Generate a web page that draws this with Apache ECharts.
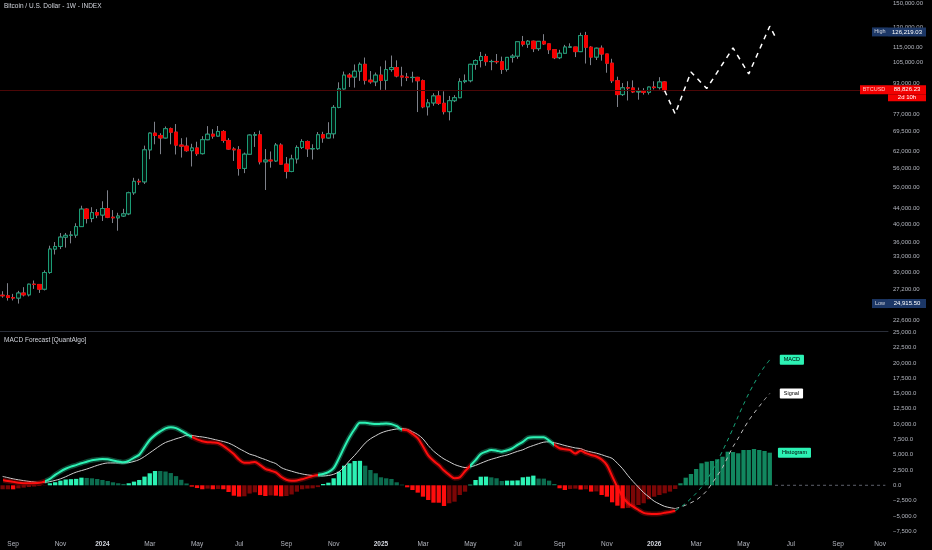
<!DOCTYPE html>
<html><head><meta charset="utf-8">
<script src="https://cdn.jsdelivr.net/npm/echarts@6/dist/echarts.min.js"></script>
<style>html,body{margin:0;padding:0;background:#000;}#c{width:932px;height:550px;}</style>
</head><body><div id="c"></div>
<script>
// ---------- data ----------
const startDate = '2023-08-21';
const weekCount = 169;
const opens = [26190,26100,25830,25750,26530,26250,27970,27930,27150,29990,34500,35040,37050,37450,37500,39460,43800,41400,42900,42280,43950,41730,41580,42030,42580,48300,51700,51550,62400,68950,68000,67000,70800,69350,64200,63800,62100,63100,61000,66300,68500,67750,69650,66000,62700,62400,55850,60800,68150,68250,58100,58700,58400,64200,57300,54850,59100,63300,65600,62800,62850,68300,67000,68700,80400,89800,97500,96400,99800,104000,94600,93700,97500,94500,100800,102000,97000,96400,96100,96200,94300,80700,82600,86100,82400,78400,83700,85200,93800,94300,104000,106400,109000,105700,105800,105600,100900,108400,109200,119000,117300,119400,114200,119300,117500,113500,108200,111100,115300,115300,112200,123500,115200,108600,114500,110600,104700,94300,86800,90400,90300,88200,88500,88000,90800,90500,93600];
const highs = [26820,28140,26400,26880,27480,28050,28600,28000,30380,35200,35980,37970,37980,38400,40250,44700,44000,44300,43800,45900,49000,43550,42850,43880,48600,52800,52500,64000,69200,73800,68900,71750,71300,72800,66900,67200,64700,65500,67700,71900,70600,71950,70200,66900,63400,63800,61400,68400,69400,70000,62700,61800,65000,64900,59800,60600,64100,66500,66000,64500,69400,69500,73600,81500,93400,99600,98700,103900,105200,108300,99900,99000,102700,106400,109600,106500,102500,98800,99500,96500,95000,84500,87500,88800,88500,86100,86500,95700,97900,104300,107100,112000,110700,106900,110600,108900,108500,110500,119000,123200,120200,119800,119300,124500,117600,113600,113400,116800,117900,115400,125600,126219.03,115900,114900,116400,110600,107500,96600,93000,94000,94500,90500,90200,91000,94000,96300,94000];
const lows = [25800,25360,25380,24915.5,26000,26000,27200,26550,26950,29780,33400,34500,34800,35700,36900,39400,40200,40500,41500,40800,41500,40300,38500,41800,42250,47700,50600,50900,59000,64500,60800,66800,64500,60700,59600,61700,56500,60200,60700,66100,66700,67600,65100,62500,58400,53500,54300,60600,63500,57200,49100,56100,58100,57200,52600,54600,57500,62700,59800,58900,62400,65100,66800,66800,80000,89400,90800,90500,94200,92200,92600,91300,89300,89300,99500,96200,91200,94100,93300,78200,80000,76600,81200,81600,77100,74400,83000,85100,92900,93400,100700,102100,103100,100400,104300,98200,99600,105100,107500,115700,114700,111900,112700,116800,110600,107300,107300,110600,114700,108600,111900,104500,103500,106700,106300,98900,93000,80600,86100,83800,87600,84200,86800,86800,89500,89500,88600];
const closes = [26100,25830,25750,26530,26250,27970,27930,27150,29990,34500,35040,37050,37450,37500,39460,43800,41400,42900,42280,43950,41730,41580,42030,42580,48300,51700,51550,62400,68950,68000,67000,70800,69350,64200,63800,62100,63100,61000,66300,68500,67750,69650,66000,62700,62400,55850,60800,68150,68250,58100,58700,58400,64200,57300,54850,59100,63300,65600,62800,62850,68300,67000,68700,80400,89800,97500,96400,99800,104000,94600,93700,97500,94500,100800,102000,97000,96400,96100,96200,94300,80700,82600,86100,82400,78400,83700,85200,93800,94300,104000,106400,109000,105700,105800,105600,100900,108400,109200,119000,117300,119400,114200,119300,117500,113500,108200,111100,115300,115300,112200,123500,115200,108600,114500,110600,104700,94300,86800,90400,90300,88200,88500,88000,90800,90500,93600,88826.23];

const priceTicks = [150000,130000,115000,105000,93000,77000,69500,62000,56000,50000,44000,40000,36000,33000,30000,27200,22600];
const macdTicks = [25000,22500,20000,17500,15000,12500,10000,7500,5000,2500,0,-2500,-5000,-7500];

const lastPrice = 88826.23;
const highPrice = 126219.03;
const lowPrice = 24915.50;
const timeLeft = '2d 10h';

// forecast price path (category index, price)
const pathIdx = [126,128,131,134,139,142,146,147];
const pathVal = [88826.23,77300,99400,90000,114700,98200,130600,122900];

const macdLine = [870,700,560,430,350,320,330,400,650,1050,
1700,2250,2700,3050,3300,3600,3850,4100,4200,4300,
4250,4050,3900,3750,4000,4500,5000,6200,7400,8200,
8800,9300,9500,9350,8900,8400,7900,7500,7200,7050,
7000,6900,6450,5800,5100,4200,3700,3700,3800,3300,
2700,2400,2100,1400,900,750,800,1000,1250,1500,
1700,1850,2150,2800,4400,6200,7850,9200,10200,10200,
10100,10000,10050,10100,10000,9650,9100,9000,8400,7700,
6350,4900,4000,3300,2400,1700,1150,1300,2300,3200,
4100,5100,5500,5750,5650,5500,5700,6050,6600,7100,
7750,7850,7850,7850,7300,6600,6050,5900,5750,5200,
5650,5250,4950,4700,4200,3300,1500,-300,-1900,-2900,
-3500,-4000,-4500,-4650,-4700,-4650,-4500,-4350,-4150];
const signalLine = [1450,1250,1050,900,760,640,540,460,480,600,
800,1050,1400,1800,2150,2400,2650,2950,3250,3500,
3650,3650,3650,3650,3700,3900,4200,4700,5300,5900,
6500,7000,7300,7600,7850,8150,8150,8000,7900,7750,
7550,7350,7150,6900,6500,6000,5550,5100,4850,4500,
4200,3850,3550,2900,2550,2300,2050,1850,1700,1600,
1550,1520,1600,1800,2200,3000,4000,4900,5900,6900,
7600,8100,8550,8850,9050,9200,9250,9150,8750,8300,
7600,6500,5600,4900,4300,3850,3400,3100,2900,3000,
3250,3600,3950,4250,4500,4750,4950,5250,5550,5800,
6200,6500,6800,7050,7100,6950,6750,6500,6300,6100,
6000,5650,5450,5250,5000,4700,4400,3600,2700,1600,
600,-300,-1200,-1900,-2600,-3050,-3450,-3650,-3800];
const histogram = [-650,-650,-660,-500,-380,-280,-200,-120,-40,330,
500,760,950,1000,1050,1250,1200,1140,1030,870,
700,490,330,220,330,600,870,1420,1960,2340,
2330,2250,2000,1500,900,300,-220,-450,-650,-550,
-650,-600,-650,-1100,-1700,-1850,-1800,-1350,-1150,-1600,
-1750,-1650,-1700,-1800,-1750,-1500,-1045,-654,-545,-500,
-300,212,425,1144,2222,3203,3595,3970,4000,3203,
2500,1960,1307,1144,1035,490,100,-330,-770,-1200,
-1860,-2400,-2840,-2850,-3380,-2940,-2680,-1590,-1045,100,
866,1405,1420,1300,1150,708,763,770,800,1307,
1400,1580,1100,1090,760,212,-490,-770,-600,-550,
-700,-650,-1035,-1000,-1590,-1860,-2780,-3330,-3760,-3700,
-3500,-3220,-2940,-2290,-1860,-1590,-1310,-1035,-600];

const fcStart = 128;
const fcMacd = [-4150,-3600,-2950,-2150,-1300,-300,850,2300,3900,5600,7400,9300,11300,13200,15000,16600,18100,19400,20500];
const fcSignal = [-3800,-3550,-3250,-2850,-2400,-1750,-900,300,1550,2900,4600,6300,7700,9200,10600,11800,12900,14000,15000];
const fcHistStart = 129;
const fcHist = [327,1242,1846,2663,3595,3856,3970,4248,4673,5490,5435,5229,5768,5768,5931,5768,5604,5327];
const zeroLineIdx = [147,168];

// ---------- helpers ----------
const FONT = 'Liberation Sans, Arial, sans-serif';
const AXIS_TXT = '#b2b5be';
const TEAL = '#2cf2b4', DKGREEN = '#0c6c4f', RED = '#ff0d0d', DKRED = '#7c0606';
const MONTHS = ['Jan','Feb','Mar','Apr','May','Jun','Jul','Aug','Sep','Oct','Nov','Dec'];
const NOLINE = 'rgba(0,0,0,0)';

const dates = [];
{
  const d0 = new Date(startDate + 'T00:00:00Z');
  for (let i = 0; i < weekCount; i++) {
    const d = new Date(d0.getTime() + i * 7 * 86400000);
    dates.push(d.toISOString().slice(0, 10));
  }
}
const fmtPrice = v => v.toLocaleString('en-US', {minimumFractionDigits: 2, maximumFractionDigits: 2});
const fmtMacd = v => (v < 0 ? '\u2212' : '') + Math.abs(v).toLocaleString('en-US', {minimumFractionDigits: 1, maximumFractionDigits: 1});

const wickData = opens.map((o, i) => [o, closes[i], lows[i], highs[i]]);
const bodyData = opens.map((o, i) => [o, closes[i], Math.min(o, closes[i]), Math.max(o, closes[i])]);
const pathData = pathIdx.map((x, i) => [x, pathVal[i]]);
const fcMacdData = fcMacd.map((v, i) => [fcStart + i, v]);
const fcSignalData = fcSignal.map((v, i) => [fcStart + i, v]);
const fcHistData = dates.map((d, i) => {
  const k = i - fcHistStart;
  if (k < 0 || k >= fcHist.length) return '-';
  if (k === fcHist.length - 1) {
    return {value: fcHist[k], label: {show: true, position: ['100%', 0], align: 'left', verticalAlign: 'middle', offset: [6, 0],
      formatter: 'Histogram', backgroundColor: TEAL, color: '#000', fontSize: 5.5, fontFamily: FONT, padding: [2, 4], borderRadius: 1}};
  }
  return fcHist[k];
});
const zeroData = zeroLineIdx.map(x => [x, 0]);

function macdPieces() {
  const out = [];
  let s = 0, g = macdLine[0] >= signalLine[0];
  for (let i = 1; i < macdLine.length; i++) {
    const gi = macdLine[i] >= signalLine[i];
    if (gi !== g) { out.push({gte: s - 0.5, lt: i - 0.5, color: g ? TEAL : RED}); s = i; g = gi; }
  }
  out.push({gte: s - 0.5, lte: 1000, color: g ? TEAL : RED});
  return out;
}
function histColor(p) {
  const i = p.dataIndex, v = histogram[i], pv = i > 0 ? histogram[i - 1] : v;
  if (v >= 0) return v >= pv ? TEAL : DKGREEN;
  return v < pv ? RED : DKRED;
}

const chart = echarts.init(document.getElementById('c'), null, {renderer: 'canvas'});
const tagRich = (bg, tagW, tagColor) => ({
  tag: {backgroundColor: bg, color: tagColor, width: tagW, align: 'center', height: 9, lineHeight: 9, fontSize: 5.5, fontFamily: FONT},
  val: {backgroundColor: bg, color: '#ffffff', width: 38, align: 'center', height: 9, lineHeight: 9, fontSize: 6, fontFamily: FONT},
  pad: {width: tagW, height: 7, lineHeight: 7},
  val2: {backgroundColor: bg, color: '#ffffff', width: 38, align: 'center', height: 7, lineHeight: 7, fontSize: 6, fontFamily: FONT}
});

chart.setOption({
  backgroundColor: '#000000',
  animation: false,
  title: [
    {text: 'Bitcoin / U.S. Dollar - 1W - INDEX', left: 4, top: 3, padding: 0, textStyle: {fontSize: 6.5, color: '#d1d4dc', fontWeight: 'normal', fontFamily: FONT}},
    {text: 'MACD Forecast [QuantAlgo]', left: 4, top: 337, padding: 0, textStyle: {fontSize: 6.5, color: '#d1d4dc', fontWeight: 'normal', fontFamily: FONT}}
  ],
  grid: [
    {left: 0, right: 44, top: 0, height: 331},
    {left: 0, right: 44, top: 332, bottom: 13}
  ],
  xAxis: [
    {type: 'category', gridIndex: 0, data: dates, axisLabel: {show: false}, axisTick: {show: false},
      axisLine: {show: true, lineStyle: {color: '#2a2e39', width: 1}}, splitLine: {show: false}},
    {type: 'category', gridIndex: 1, data: dates, axisTick: {show: false}, axisLine: {show: false}, splitLine: {show: false},
      axisLabel: {
        margin: 4, color: AXIS_TXT, fontSize: 6.5, fontFamily: FONT,
        interval: (idx, val) => { const d = new Date(val + 'T00:00:00Z'); return d.getUTCDate() <= 7 && d.getUTCMonth() % 2 === 0; },
        formatter: val => { const d = new Date(val + 'T00:00:00Z'); const m = d.getUTCMonth(); return m === 0 ? '{y|' + d.getUTCFullYear() + '}' : MONTHS[m]; },
        rich: {y: {fontWeight: 'bold', color: '#d1d4dc', fontSize: 6.5, fontFamily: FONT}}
      }}
  ],
  yAxis: [
    {type: 'log', logBase: 10, gridIndex: 0, position: 'right', min: 21150, max: 152700,
      axisLine: {show: false}, axisTick: {show: false}, splitLine: {show: false},
      axisLabel: {customValues: priceTicks, formatter: v => fmtPrice(v), margin: 5, color: AXIS_TXT, fontSize: 6, fontFamily: FONT}},
    {type: 'value', gridIndex: 1, position: 'right', min: -8450, max: 25050,
      axisLine: {show: false}, axisTick: {show: false}, splitLine: {show: false},
      axisLabel: {customValues: macdTicks, formatter: v => fmtMacd(v), margin: 5, color: AXIS_TXT, fontSize: 6, fontFamily: FONT}}
  ],
  visualMap: [{show: false, type: 'piecewise', dimension: 0, seriesIndex: [6, 7], pieces: macdPieces()}],
  series: [
    {type: 'candlestick', name: 'wicks', xAxisIndex: 0, yAxisIndex: 0, data: wickData, barWidth: 4,
      itemStyle: {color: 'rgba(0,0,0,0)', color0: 'rgba(0,0,0,0)', borderColor: '#7e818a', borderColor0: '#7e818a', borderWidth: 1}},
    {type: 'candlestick', name: 'BTCUSD', xAxisIndex: 0, yAxisIndex: 0, data: bodyData, barWidth: 4,
      itemStyle: {color: '#03150f', color0: '#f50000', borderColor: '#1b9c75', borderColor0: '#f50000', borderWidth: 1},
      markLine: {
        symbol: ['none', 'none'], silent: true, animation: false,
        data: [
          {yAxis: lastPrice, lineStyle: {color: '#4c0707', width: 1, type: 'solid'},
            label: {show: true, position: 'end', distance: -28, padding: [5, 0, 0, 0],
              formatter: '{tag|BTCUSD}{val|' + fmtPrice(lastPrice) + '}\n{pad|}{val2|' + timeLeft + '}',
              rich: tagRich('#f20000', 28, '#ffc4c4')}},
          {yAxis: highPrice, lineStyle: {color: NOLINE, width: 1},
            label: {show: true, position: 'end', distance: -16,
              formatter: '{tag|High}{val|' + fmtPrice(highPrice) + '}', rich: tagRich('#1c3766', 16, '#d1d4dc')}},
          {yAxis: lowPrice, lineStyle: {color: NOLINE, width: 1},
            label: {show: true, position: 'end', distance: -16,
              formatter: '{tag|Low}{val|' + fmtPrice(lowPrice) + '}', rich: tagRich('#1c3766', 16, '#d1d4dc')}}
        ]
      }},
    {type: 'line', name: 'path', xAxisIndex: 0, yAxisIndex: 0, data: pathData, symbol: 'none',
      lineStyle: {color: '#ffffff', width: 1.5, type: [5, 5]}, z: 5},
    {type: 'bar', name: 'hist', xAxisIndex: 1, yAxisIndex: 1, data: histogram, barWidth: '82%', barGap: '-100%',
      itemStyle: {color: histColor}},
    {type: 'bar', name: 'histFc', xAxisIndex: 1, yAxisIndex: 1, data: fcHistData, barWidth: '82%', barGap: '-100%',
      itemStyle: {color: '#12875f'}},
    {type: 'line', name: 'signal', xAxisIndex: 1, yAxisIndex: 1, data: signalLine, symbol: 'none', smooth: 0.3,
      lineStyle: {color: '#cfcfcf', width: 1}},
    {type: 'line', name: 'macdGlow', xAxisIndex: 1, yAxisIndex: 1, data: macdLine, symbol: 'none', smooth: 0.3,
      lineStyle: {width: 5, opacity: 0.3}},
    {type: 'line', name: 'macd', xAxisIndex: 1, yAxisIndex: 1, data: macdLine, symbol: 'none', smooth: 0.3,
      lineStyle: {width: 2}},
    {type: 'line', name: 'signalFc', xAxisIndex: 1, yAxisIndex: 1, data: fcSignalData, symbol: 'none', smooth: 0.3,
      lineStyle: {color: '#bdbdbd', width: 1, type: [4, 4]},
      endLabel: {show: true, formatter: 'Signal', backgroundColor: '#ffffff', color: '#000', fontSize: 5.5, fontFamily: FONT, padding: [2, 4], borderRadius: 1, distance: 10}},
    {type: 'line', name: 'macdFc', xAxisIndex: 1, yAxisIndex: 1, data: fcMacdData, symbol: 'none', smooth: 0.3,
      lineStyle: {color: '#17a57a', width: 1, type: [4, 4]},
      endLabel: {show: true, formatter: 'MACD', backgroundColor: TEAL, color: '#000', fontSize: 5.5, fontFamily: FONT, padding: [2, 4], borderRadius: 1, distance: 10}},
    {type: 'line', name: 'zero', xAxisIndex: 1, yAxisIndex: 1, data: zeroData, symbol: 'none',
      lineStyle: {color: '#5d606b', width: 1, type: [3, 3]}}
  ]
});
</script>
</body></html>
